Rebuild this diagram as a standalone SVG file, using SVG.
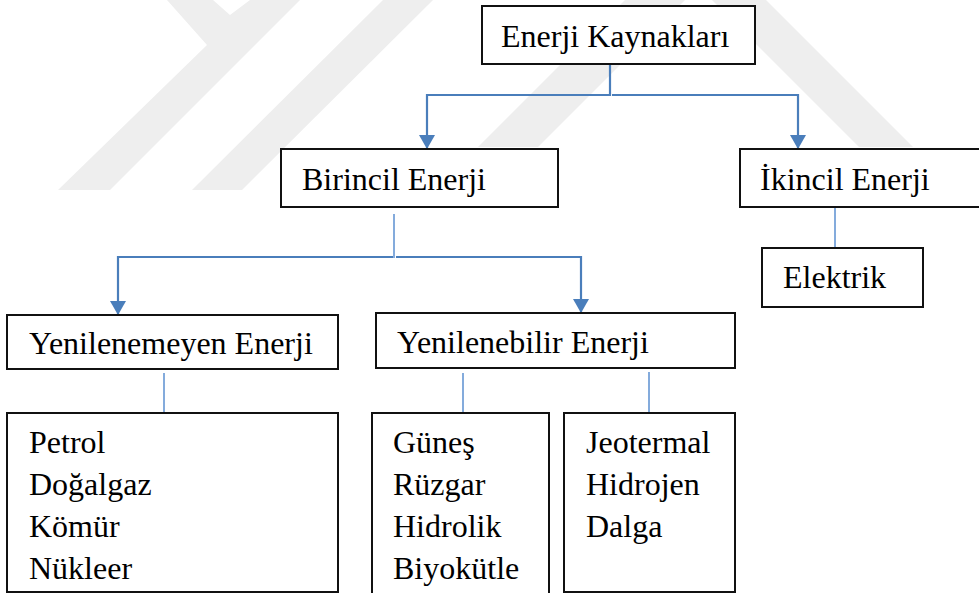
<svg xmlns="http://www.w3.org/2000/svg" width="979" height="593" viewBox="0 0 979 593">
  <style>
    .box { fill: #ffffff; stroke: #111111; stroke-width: 2; }
    .lbl { font-family: "Liberation Serif", "Times New Roman", serif; font-size: 32px; fill: #000000; }
    .arr { stroke: #4a7ebb; stroke-width: 2.2; fill: none; }
    .thin { stroke: #5b8fd0; stroke-width: 1.5; fill: none; }
    .wm { fill: #eeeeee; }
  </style>
  <defs>
    <marker id="ah" markerUnits="userSpaceOnUse" markerWidth="14" markerHeight="16" refX="14" refY="8" orient="auto">
      <path d="M0,0 L14,8 L0,16 z" fill="#4a7ebb"/>
    </marker>
  </defs>

  <g id="watermark">
    <polygon class="wm" points="167,0 213,0 230,15 250,0 300,0 110,190 58,190 207,45"/>
    <polygon class="wm" points="383,0 433,0 242,190 192,190"/>
    <polygon class="wm" points="625,0 685,0 538,147 478,147"/>
    <polygon class="wm" points="712,0 766,0 913,147 859,147"/>
  </g>

  <g id="connectors">
    <line class="arr" x1="610" y1="55" x2="610" y2="96"/>
    <line class="arr" x1="427" y1="95" x2="610" y2="95"/>
    <line class="arr" x1="612" y1="95" x2="798" y2="95"/>
    <line class="arr" x1="427" y1="94" x2="427" y2="149" marker-end="url(#ah)"/>
    <line class="arr" x1="798" y1="94" x2="798" y2="149" marker-end="url(#ah)"/>

    <line class="thin" x1="394" y1="214" x2="394" y2="258"/>
    <line class="arr" x1="118" y1="257" x2="393" y2="257"/>
    <line class="arr" x1="396" y1="257" x2="582" y2="257"/>
    <line class="arr" x1="118" y1="256" x2="118" y2="315" marker-end="url(#ah)"/>
    <line class="arr" x1="581" y1="256" x2="581" y2="313" marker-end="url(#ah)"/>

    <line class="thin" x1="835" y1="207" x2="835" y2="248"/>
    <line class="thin" x1="164" y1="373" x2="164" y2="413"/>
    <line class="thin" x1="463" y1="373" x2="463" y2="413"/>
    <line class="thin" x1="649" y1="372" x2="649" y2="413"/>
  </g>

  <g id="enerji-kaynaklari">
    <rect class="box" x="482" y="6" width="273" height="58"/>
    <text class="lbl" x="501" y="47">Enerji Kaynakları</text>
  </g>
  <g id="birincil">
    <rect class="box" x="281" y="149" width="277" height="58"/>
    <text class="lbl" x="302" y="190">Birincil Enerji</text>
  </g>
  <g id="ikincil">
    <rect class="box" x="740" y="149" width="250" height="58"/>
    <text class="lbl" x="760" y="190">İkincil Enerji</text>
  </g>
  <g id="elektrik">
    <rect class="box" x="762" y="248" width="161" height="59"/>
    <text class="lbl" x="783" y="288">Elektrik</text>
  </g>
  <g id="yenilenemeyen">
    <rect class="box" x="7" y="315" width="331" height="54"/>
    <text class="lbl" x="29" y="354">Yenilenemeyen Enerji</text>
  </g>
  <g id="yenilenebilir">
    <rect class="box" x="376" y="313" width="359" height="55"/>
    <text class="lbl" x="397" y="353">Yenilenebilir Enerji</text>
  </g>
  <g id="fosil-liste">
    <rect class="box" x="7" y="413" width="331" height="179"/>
    <text class="lbl" x="29" y="453">Petrol</text>
    <text class="lbl" x="29" y="495">Doğalgaz</text>
    <text class="lbl" x="29" y="537">Kömür</text>
    <text class="lbl" x="29" y="579">Nükleer</text>
  </g>
  <g id="yenilenebilir-liste-1">
    <rect class="box" x="372" y="413" width="177" height="182"/>
    <text class="lbl" x="393" y="453">Güneş</text>
    <text class="lbl" x="393" y="495">Rüzgar</text>
    <text class="lbl" x="393" y="537">Hidrolik</text>
    <text class="lbl" x="393" y="579">Biyokütle</text>
  </g>
  <g id="yenilenebilir-liste-2">
    <rect class="box" x="564" y="413" width="171" height="179"/>
    <text class="lbl" x="586" y="453">Jeotermal</text>
    <text class="lbl" x="586" y="495">Hidrojen</text>
    <text class="lbl" x="586" y="537">Dalga</text>
  </g>
</svg>
